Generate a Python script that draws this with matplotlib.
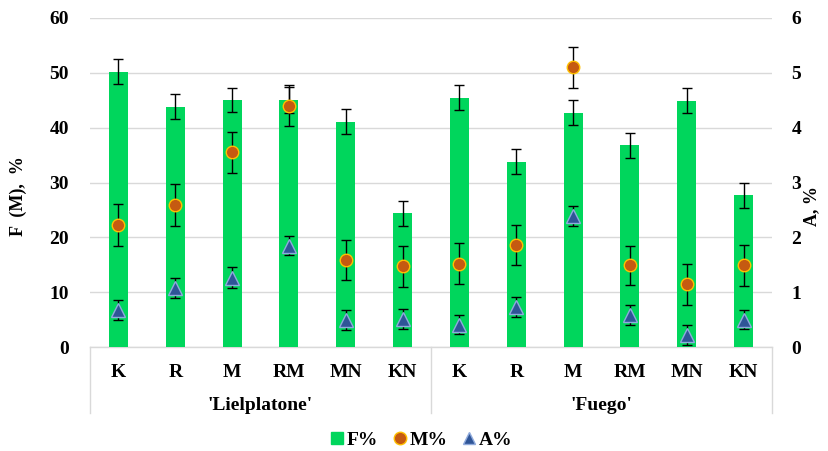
import matplotlib
matplotlib.use("Agg")
import matplotlib.pyplot as plt
from matplotlib.lines import Line2D
from matplotlib.transforms import blended_transform_factory
import numpy as np

categories = ["K", "R", "M", "RM", "MN", "KN", "K", "R", "M", "RM", "MN", "KN"]
groups = ["'Lielplatone'", "'Fuego'"]

F_vals = [50.2, 43.8, 45.0, 45.0, 41.1, 24.4, 45.5, 33.8, 42.7, 36.8, 44.9, 27.7]
F_err = [2.3, 2.3, 2.2, 2.4, 2.3, 2.3, 2.3, 2.3, 2.3, 2.3, 2.3, 2.3]
M_vals = [22.2, 25.9, 35.5, 44.0, 15.9, 14.7, 15.2, 18.6, 51.0, 14.9, 11.4, 14.9]
M_err = [3.8, 3.8, 3.7, 3.7, 3.7, 3.8, 3.7, 3.7, 3.7, 3.6, 3.7, 3.7]
A_vals = [0.68, 1.08, 1.26, 1.85, 0.49, 0.51, 0.41, 0.73, 2.39, 0.58, 0.22, 0.50]
A_err = [0.18, 0.18, 0.19, 0.18, 0.18, 0.18, 0.18, 0.18, 0.19, 0.18, 0.18, 0.18]

FONT = "Liberation Serif"
green = "#00D65C"
orange = "#C55A11"
gold = "#FFC000"
blue = "#2F5597"
blue_edge = "#8FAADC"

W, H = 829, 451
fig = plt.figure(figsize=(W / 100, H / 100), dpi=100)
L, R, T, B = 90, 772, 18, 347
ax = fig.add_axes([L / W, 1 - B / H, (R - L) / W, (B - T) / H])
ax2 = ax.twinx()

x = np.arange(len(categories))
ax.set_axisbelow(True)
ax.bar(x, F_vals, width=0.335, color=green, zorder=2)
ax.errorbar(x, F_vals, yerr=F_err, fmt="none", ecolor="black", elinewidth=1,
            capsize=3.5, capthick=1, zorder=3)
ax.errorbar(x, M_vals, yerr=M_err, fmt="none", ecolor="black", elinewidth=1,
            capsize=3.5, capthick=1, zorder=4)
ax.plot(x, M_vals, linestyle="none", marker="o", markersize=9,
        markerfacecolor=orange, markeredgecolor=gold, markeredgewidth=1, zorder=5)

ax2.errorbar(x, A_vals, yerr=A_err, fmt="none", ecolor="black", elinewidth=1,
             capsize=3.5, capthick=1, zorder=4)
ax2.plot(x, A_vals, linestyle="none", marker="^", markersize=9.5,
         markerfacecolor=blue, markeredgecolor=blue_edge, markeredgewidth=1, zorder=5)

ax.set_xlim(-0.5, len(categories) - 0.5)
ax.set_ylim(0, 60)
ax2.set_ylim(0, 6)
ax.set_yticks(np.arange(0, 61, 10))
ax2.set_yticks(np.arange(0, 7, 1))
ax.yaxis.grid(True, color="#D9D9D9", linewidth=1)
ax.xaxis.grid(False)

for a in (ax, ax2):
    for s in ("top", "left", "right", "bottom"):
        a.spines[s].set_visible(False)

ax.tick_params(axis="y", length=0, pad=15)
ax2.tick_params(axis="y", length=0, pad=14)
for lab in ax.get_yticklabels() + ax2.get_yticklabels():
    lab.set_fontfamily(FONT)
    lab.set_fontweight("bold")
    lab.set_fontsize(14)

ax.set_xticks(x)
ax.set_xticklabels(categories)
ax.tick_params(axis="x", length=0, pad=12)
for lab in ax.get_xticklabels():
    lab.set_fontfamily(FONT)
    lab.set_fontweight("bold")
    lab.set_fontsize(14)

# category axis lines
trans = blended_transform_factory(ax.transData, ax.transAxes)
line_col = "#D9D9D9"
ax.plot([-0.5, len(categories) - 0.5], [0, 0], transform=trans, color=line_col,
        lw=1, clip_on=False, zorder=1)
depth = -(413 - 347) / (B - T)
for xv in (-0.5, 5.5, 11.5):
    ax.plot([xv, xv], [0, depth], transform=trans, color=line_col, lw=1,
            clip_on=False)
gy = -(405 - 347) / (B - T)
ax.text(2.5, gy, groups[0], transform=trans, ha="center", va="center",
        family=FONT, weight="bold", size=14)
ax.text(8.5, gy, groups[1], transform=trans, ha="center", va="center",
        family=FONT, weight="bold", size=14)

fig.text(18 / W, 1 - 196 / H, "F  (M),  %", rotation=90, ha="center", va="center",
         family=FONT, weight="bold", size=13)
fig.text(812 / W, 1 - 206 / H, "A, %", rotation=90, ha="center", va="center",
         family=FONT, weight="bold", size=13)

handles = [
    Line2D([], [], linestyle="none", marker="s", markersize=8.5, markerfacecolor=green,
           markeredgecolor=green),
    Line2D([], [], linestyle="none", marker="o", markersize=9, markerfacecolor=orange,
           markeredgecolor=gold),
    Line2D([], [], linestyle="none", marker="^", markersize=9, markerfacecolor=blue,
           markeredgecolor=blue_edge),
]
fig.legend(handles, ["F%", "M%", "A%"], loc="center", bbox_to_anchor=(420 / W, 1 - 440 / H),
           ncol=3, frameon=False, handletextpad=0.0, columnspacing=0.6,
           handlelength=1.0, prop=dict(family=FONT, weight="bold", size=14))

fig.savefig("out.png", dpi=100)
